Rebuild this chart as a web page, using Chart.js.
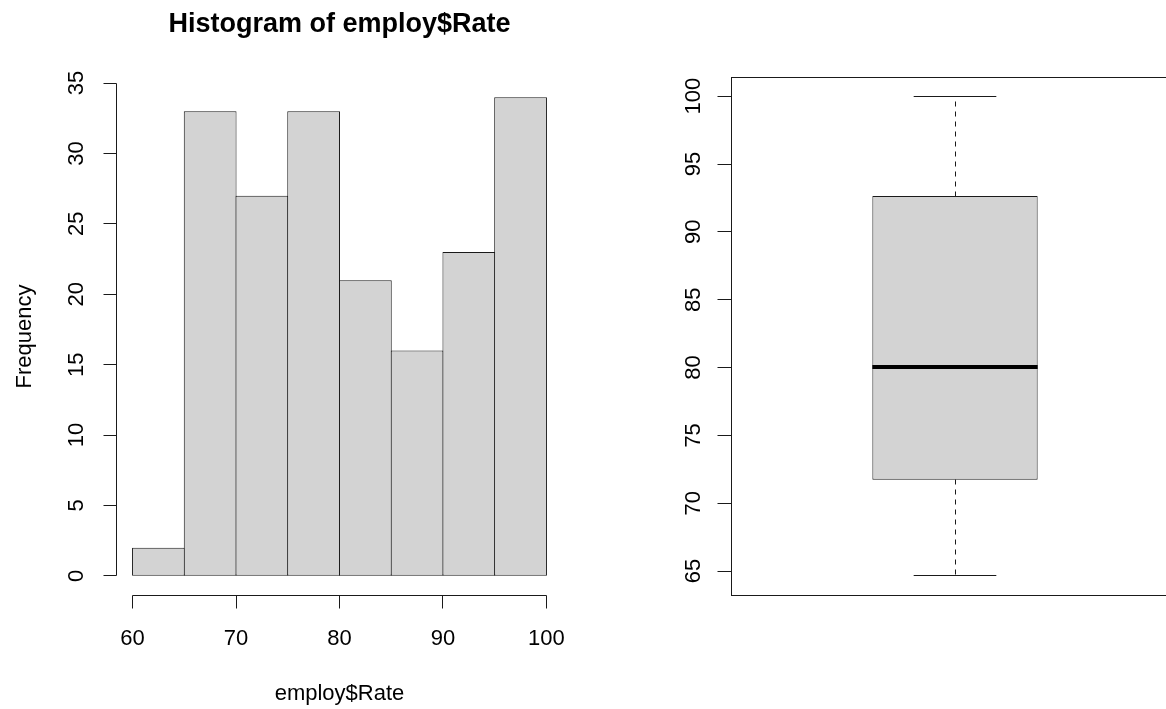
<!DOCTYPE html>
<html>
<head>
<meta charset="utf-8">
<title>employ$Rate</title>
<script src="https://cdn.jsdelivr.net/npm/chart.js@4.4.1/dist/chart.umd.min.js"></script>
<style>
  html, body { margin: 0; padding: 0; background: #fff; overflow: hidden; }
  #wrap { position: relative; width: 1166px; height: 709px; overflow: hidden; background: #fff; }
  #hist { position: absolute; left: 0; top: 0; }
  #box { position: absolute; left: 583px; top: 0; }
</style>
</head>
<body>
<div id="wrap">
  <canvas id="hist" width="583" height="709"></canvas>
  <canvas id="box" width="620" height="709"></canvas>
</div>
<script>
// Histogram of employ$Rate: bin edges and counts per bin
const binEdges = [60, 65, 70, 75, 80, 85, 90, 95, 100];
const binCounts = [2, 33, 27, 33, 21, 16, 23, 34];
const histXTicks = [60, 70, 80, 90, 100];
const histYTicks = [0, 5, 10, 15, 20, 25, 30, 35];

// Boxplot five-number summary: min, Q1, median, Q3, max
const boxFive = [64.65, 71.73, 80.03, 92.64, 100];
const boxYTicks = [65, 70, 75, 80, 85, 90, 95, 100];

// Base-graphics style: axis ranges padded by 4% on each side
const PAD = 0.04;
const histXLo = binEdges[0] - PAD * (binEdges[binEdges.length - 1] - binEdges[0]);
const histXHi = binEdges[binEdges.length - 1] + PAD * (binEdges[binEdges.length - 1] - binEdges[0]);
const histYLo = 0 - PAD * Math.max(...binCounts);
const histYHi = Math.max(...binCounts) * (1 + PAD);
const boxRange = boxFive[4] - boxFive[0];
const boxYLo = boxFive[0] - PAD * boxRange;
const boxYHi = boxFive[4] + PAD * boxRange;

const FONT = '"Liberation Sans", Arial, Helvetica, sans-serif';
const INK = '#1a1a1a';
const FILL = '#d3d3d3';
const TICK_LEN = 13;
const LABEL_PX = 22;

function seg(ctx, x1, y1, x2, y2) {
  ctx.beginPath();
  ctx.moveTo(x1, y1);
  ctx.lineTo(x2, y2);
  ctx.stroke();
}
function crisp(v) { return Math.round(v - 0.5) + 0.5; }

// text reading bottom-to-top, x is the baseline position
function upText(ctx, s, x, y) {
  ctx.save();
  ctx.translate(x, y);
  ctx.rotate(-Math.PI / 2);
  ctx.textAlign = 'center';
  ctx.textBaseline = 'alphabetic';
  ctx.fillText(s, 0, 0);
  ctx.restore();
}

function setTicks(values) {
  return scale => { scale.ticks = values.map(v => ({ value: v })); };
}

// Axes, tick labels and titles for the histogram panel
const histAxes = {
  id: 'histAxes',
  afterDraw(chart) {
    const { ctx, chartArea: a } = chart;
    const xs = chart.scales.x, ys = chart.scales.y;
    ctx.save();
    ctx.strokeStyle = INK;
    ctx.lineWidth = 1;
    ctx.fillStyle = '#000';
    ctx.font = LABEL_PX + 'px ' + FONT;

    // left axis
    const ax = crisp(a.left);
    const yTop = ys.getPixelForValue(histYTicks[histYTicks.length - 1]);
    const yBot = ys.getPixelForValue(histYTicks[0]);
    seg(ctx, ax, crisp(yTop), ax, crisp(yBot));
    ys.ticks.forEach(t => {
      const p = crisp(ys.getPixelForValue(t.value));
      seg(ctx, ax - TICK_LEN, p, ax, p);
      upText(ctx, String(t.value), a.left - 33, ys.getPixelForValue(t.value));
    });

    // bottom axis
    const by = crisp(a.bottom);
    const xL = xs.getPixelForValue(histXTicks[0]);
    const xR = xs.getPixelForValue(histXTicks[histXTicks.length - 1]);
    seg(ctx, crisp(xL), by, crisp(xR), by);
    ctx.textAlign = 'center';
    ctx.textBaseline = 'alphabetic';
    xs.ticks.forEach(t => {
      const p = crisp(xs.getPixelForValue(t.value));
      seg(ctx, p, by, p, by + TICK_LEN);
      ctx.fillText(String(t.value), xs.getPixelForValue(t.value), a.bottom + 50);
    });

    // axis titles
    const midX = (a.left + a.right) / 2;
    ctx.fillText('employ$Rate', midX, 699.5);
    upText(ctx, 'Frequency', 31, (a.top + a.bottom) / 2);

    // main title
    ctx.font = 'bold 27px ' + FONT;
    ctx.fillText('Histogram of employ$Rate', midX, 32);
    ctx.restore();
  }
};

// Median, whiskers, staples, frame and left axis for the boxplot panel
const boxParts = {
  id: 'boxParts',
  afterDatasetsDraw(chart) {
    const { ctx } = chart;
    const ys = chart.scales.y;
    const bar = chart.getDatasetMeta(0).data[0];
    const cx = crisp(bar.x);
    const hw = bar.width / 2;
    const yMin = ys.getPixelForValue(boxFive[0]);
    const yQ1 = ys.getPixelForValue(boxFive[1]);
    const yMed = ys.getPixelForValue(boxFive[2]);
    const yQ3 = ys.getPixelForValue(boxFive[3]);
    const yMax = ys.getPixelForValue(boxFive[4]);
    ctx.save();
    ctx.strokeStyle = INK;
    ctx.lineWidth = 1;
    // dashed whiskers
    ctx.setLineDash([5, 5]);
    seg(ctx, cx, crisp(yQ3), cx, crisp(yMax));
    seg(ctx, cx, crisp(yQ1), cx, crisp(yMin));
    ctx.setLineDash([]);
    // staples
    seg(ctx, bar.x - hw / 2, crisp(yMax), bar.x + hw / 2, crisp(yMax));
    seg(ctx, bar.x - hw / 2, crisp(yMin), bar.x + hw / 2, crisp(yMin));
    // median
    ctx.strokeStyle = '#000';
    ctx.lineWidth = 4;
    seg(ctx, bar.x - hw, Math.round(yMed), bar.x + hw, Math.round(yMed));
    ctx.restore();
  },
  afterDraw(chart) {
    const { ctx, chartArea: a } = chart;
    const ys = chart.scales.y;
    ctx.save();
    ctx.strokeStyle = INK;
    ctx.lineWidth = 1;
    ctx.fillStyle = '#000';
    ctx.font = LABEL_PX + 'px ' + FONT;
    // frame around the plot region
    ctx.strokeRect(crisp(a.left), crisp(a.top), a.right - a.left, a.bottom - a.top);
    // left axis ticks and labels
    const ax = crisp(a.left);
    ys.ticks.forEach(t => {
      const p = crisp(ys.getPixelForValue(t.value));
      seg(ctx, ax - TICK_LEN - 1, p, ax, p);
      upText(ctx, String(t.value), a.left - 31, ys.getPixelForValue(t.value));
    });
    ctx.restore();
  }
};

const common = {
  responsive: false,
  animation: false,
  events: [],
  devicePixelRatio: 1,
  plugins: { legend: { display: false }, tooltip: { enabled: false } }
};

new Chart(document.getElementById('hist'), {
  type: 'bar',
  data: {
    datasets: [{
      data: binCounts.map((c, i) => ({ x: (binEdges[i] + binEdges[i + 1]) / 2, y: c })),
      backgroundColor: FILL,
      borderColor: INK,
      borderWidth: 1,
      borderSkipped: false,
      barPercentage: 1.02,
      categoryPercentage: 1
    }]
  },
  options: Object.assign({}, common, {
    layout: { padding: { left: 116, top: 78, right: 20, bottom: 114 } },
    scales: {
      x: { type: 'linear', display: false, offset: false, grid: { offset: false },
           min: histXLo, max: histXHi, afterBuildTicks: setTicks(histXTicks) },
      y: { type: 'linear', display: false, min: histYLo, max: histYHi, afterBuildTicks: setTicks(histYTicks) }
    }
  }),
  plugins: [histAxes]
});

new Chart(document.getElementById('box'), {
  type: 'bar',
  data: {
    labels: [''],
    datasets: [{
      data: [[boxFive[1], boxFive[3]]],
      backgroundColor: FILL,
      borderColor: INK,
      borderWidth: 1,
      borderSkipped: false,
      barPercentage: 0.369,
      categoryPercentage: 1
    }]
  },
  options: Object.assign({}, common, {
    layout: { padding: { left: 148, top: 77, right: 24, bottom: 114 } },
    scales: {
      x: { display: false },
      y: { type: 'linear', display: false, min: boxYLo, max: boxYHi, afterBuildTicks: setTicks(boxYTicks) }
    }
  }),
  plugins: [boxParts]
});
</script>
</body>
</html>
